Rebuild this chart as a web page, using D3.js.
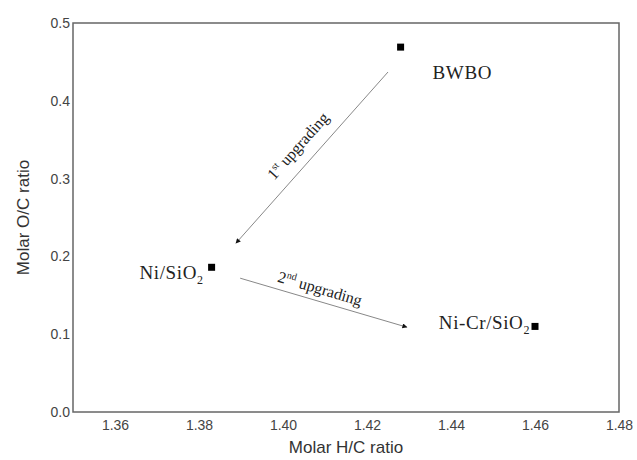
<!DOCTYPE html>
<html>
<head>
<meta charset="utf-8">
<script src="https://cdn.jsdelivr.net/npm/d3@7"></script>
<style>
  body { margin: 0; background: #fff; }
  svg { display: block; }
</style>
</head>
<body>
<script>
var width = 637,
  height = 460;
var margin = { top: 23, right: 18, bottom: 48, left: 73 };

// sample points
var names = ["BWBO", "Ni/SiO", "Ni-Cr/SiO"];
var subs = ["", "2", "2"];
var hc = [1.428, 1.383, 1.460];
var oc = [0.469, 0.186, 0.110];

// arrows: start and end in data units
var arrowX1 = [1.425, 1.3898];
var arrowY1 = [0.437, 0.172];
var arrowX2 = [1.3888, 1.4295];
var arrowY2 = [0.217, 0.109];
var arrowText = ["1", "2"];
var arrowSup = ["st", "nd"];

var xTicks = [1.36, 1.38, 1.40, 1.42, 1.44, 1.46, 1.48];
var yTicks = [0.0, 0.1, 0.2, 0.3, 0.4, 0.5];

var svg = d3.select("body").append("svg")
  .attr("width", width)
  .attr("height", height);

var x = d3.scaleLinear().domain([1.35, 1.48]).range([margin.left, width - margin.right]);
var y = d3.scaleLinear().domain([0, 0.5]).range([height - margin.bottom, margin.top]);

svg.append("defs").append("marker")
  .attr("id", "head")
  .attr("viewBox", "0 0 10 10")
  .attr("refX", 9)
  .attr("refY", 5)
  .attr("markerWidth", 7)
  .attr("markerHeight", 5)
  .attr("markerUnits", "userSpaceOnUse")
  .attr("orient", "auto")
  .append("path")
  .attr("d", "M0,0L10,5L0,10z")
  .attr("fill", "#111");

var xAxis = d3.axisBottom(x).tickValues(xTicks).tickFormat(d3.format(".2f")).tickSize(0).tickPadding(8);
var yAxis = d3.axisLeft(y).tickValues(yTicks).tickFormat(d3.format(".1f")).tickSize(0).tickPadding(3);

var gx = svg.append("g")
  .attr("transform", "translate(0," + (height - margin.bottom) + ")")
  .call(xAxis);
var gy = svg.append("g")
  .attr("transform", "translate(" + margin.left + ",0)")
  .call(yAxis);

[gx, gy].forEach(function (g) {
  g.select(".domain").remove();
  g.selectAll("text")
    .attr("fill", "#444")
    .style("font-family", "'Liberation Sans', Arial, sans-serif")
    .style("font-size", "14px");
});

// frame
svg.append("rect")
  .attr("x", x(1.35))
  .attr("y", y(0.5))
  .attr("width", x(1.48) - x(1.35))
  .attr("height", y(0) - y(0.5))
  .attr("fill", "none")
  .attr("stroke", "#666")
  .attr("stroke-width", 1.5);

svg.append("text")
  .attr("x", (x(1.35) + x(1.48)) / 2)
  .attr("y", 453)
  .attr("text-anchor", "middle")
  .attr("fill", "#333")
  .style("font-family", "'Liberation Sans', Arial, sans-serif")
  .style("font-size", "17px")
  .text("Molar H/C ratio");

svg.append("text")
  .attr("transform", "translate(29," + (y(0.25)) + ") rotate(-90)")
  .attr("text-anchor", "middle")
  .attr("fill", "#333")
  .style("font-family", "'Liberation Sans', Arial, sans-serif")
  .style("font-size", "17px")
  .text("Molar O/C ratio");

// arrows
svg.selectAll("line.arrow")
  .data(arrowX1)
  .enter()
  .append("line")
  .attr("class", "arrow")
  .attr("x1", (d, i) => x(arrowX1[i]))
  .attr("y1", (d, i) => y(arrowY1[i]))
  .attr("x2", (d, i) => x(arrowX2[i]))
  .attr("y2", (d, i) => y(arrowY2[i]))
  .attr("stroke", "#888")
  .attr("stroke-width", 1)
  .attr("marker-end", "url(#head)");

// arrow captions, placed beside the middle of each arrow
var offsets = [[-10, -8], [-5, -9]];
svg.selectAll("text.cap")
  .data(arrowText)
  .enter()
  .append("text")
  .attr("class", "cap")
  .attr("transform", function (d, i) {
    var ax = x(arrowX1[i]), ay = y(arrowY1[i]);
    var bx = x(arrowX2[i]), by = y(arrowY2[i]);
    var ang = Math.atan2(by - ay, bx - ax) * 180 / Math.PI;
    if (ang > 90 || ang < -90) ang += 180;
    var mx = (ax + bx) / 2 + offsets[i][0], my = (ay + by) / 2 + offsets[i][1];
    return "translate(" + mx + "," + my + ") rotate(" + ang + ")";
  })
  .attr("text-anchor", "middle")
  .attr("fill", "#222")
  .style("font-family", "'Liberation Serif', 'Times New Roman', serif")
  .style("font-size", "16px")
  .each(function (d, i) {
    var t = d3.select(this);
    t.append("tspan").text(d);
    t.append("tspan").attr("dy", -6).style("font-size", "10px").text(arrowSup[i]);
    t.append("tspan").attr("dy", 6).text(" upgrading");
  });

// points
svg.selectAll("rect.pt")
  .data(hc)
  .enter()
  .append("rect")
  .attr("class", "pt")
  .attr("x", (d) => x(d) - 3.5)
  .attr("y", (d, i) => y(oc[i]) - 3.5)
  .attr("width", 7)
  .attr("height", 7)
  .attr("fill", "#000");

// point labels
var labelPos = [[32, 32, "start"], [-8, 12, "end"], [-5, 3, "end"]];
svg.selectAll("text.lbl")
  .data(names)
  .enter()
  .append("text")
  .attr("class", "lbl")
  .attr("x", (d, i) => x(hc[i]) + labelPos[i][0])
  .attr("y", (d, i) => y(oc[i]) + labelPos[i][1])
  .attr("text-anchor", (d, i) => labelPos[i][2])
  .attr("fill", "#222")
  .style("font-family", "'Liberation Serif', 'Times New Roman', serif")
  .style("font-size", "19px")
  .style("letter-spacing", "0.6px")
  .each(function (d, i) {
    var t = d3.select(this);
    t.append("tspan").text(d);
    if (subs[i]) t.append("tspan").attr("dy", 5).style("font-size", "12px").text(subs[i]);
  });
</script>
</body>
</html>
